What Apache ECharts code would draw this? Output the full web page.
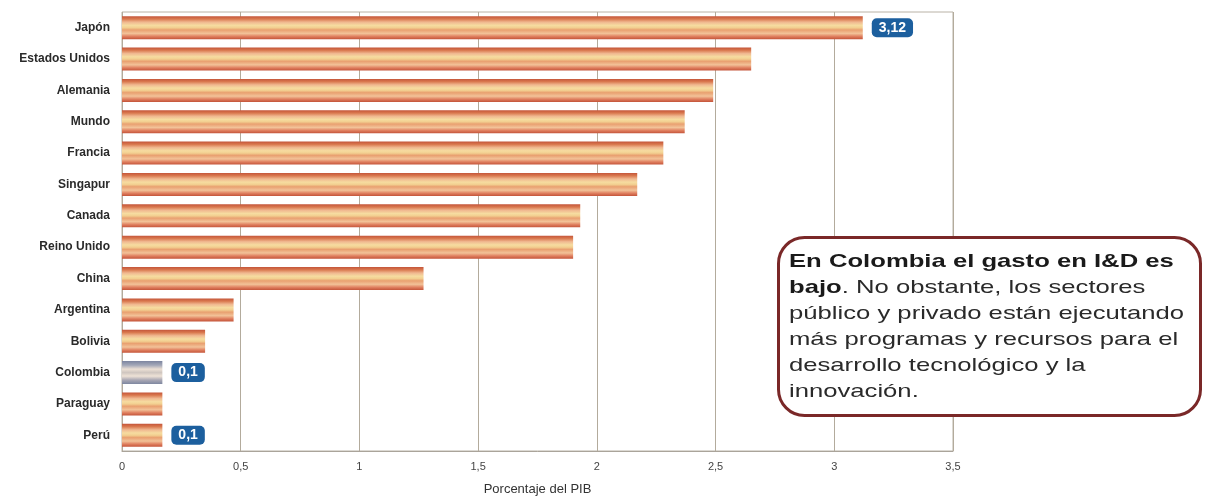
<!DOCTYPE html>
<html><head><meta charset="utf-8">
<script src="https://cdn.jsdelivr.net/npm/echarts@6/dist/echarts.min.js"></script>
<style>html,body{margin:0;padding:0;background:#fff}#c{width:1209px;height:498px}</style>
</head><body><div id="c"></div>
<script>
const categories = ['Japón','Estados Unidos','Alemania','Mundo','Francia','Singapur','Canada','Reino Unido','China','Argentina','Bolivia','Colombia','Paraguay','Perú'];
const values = [3.12, 2.65, 2.49, 2.37, 2.28, 2.17, 1.93, 1.90, 1.27, 0.47, 0.35, 0.17, 0.17, 0.17];
const valueLabels = ['3,12','','','','','','','','','','','0,1','','0,1'];
const highlight = 'Colombia';
const axisTitle = 'Porcentaje del PIB';

const orangeGrad = new echarts.graphic.LinearGradient(0,0,0,1,[
  {offset:0,color:'#c4553a'},{offset:0.12,color:'#d9784e'},{offset:0.26,color:'#f0b890'},
  {offset:0.4,color:'#f6dca0'},{offset:0.5,color:'#f2cf90'},{offset:0.6,color:'#e9a070'},
  {offset:0.75,color:'#f2c298'},{offset:0.88,color:'#e08060'},{offset:1,color:'#c4553a'}]);
const greyGrad = new echarts.graphic.LinearGradient(0,0,0,1,[
  {offset:0,color:'#7d86a0'},{offset:0.18,color:'#a4a8b8'},{offset:0.35,color:'#ece0d4'},
  {offset:0.5,color:'#cfc6c0'},{offset:0.65,color:'#eee2d6'},{offset:0.82,color:'#aaa8b4'},{offset:1,color:'#7d86a0'}]);

const data = values.map((v,i)=>({
  value:v,
  itemStyle:{color: categories[i]===highlight ? greyGrad : orangeGrad},
  label:{show: valueLabels[i]!=='', formatter: valueLabels[i]}
}));

const chart = echarts.init(document.getElementById('c'));
chart.setOption({
  animation:false,
  grid:{left:122,right:256,top:12,bottom:47,outerBoundsMode:'none',containLabel:false,show:true,borderColor:'#b9b2a6',borderWidth:1},
  xAxis:{type:'value',min:0,max:3.5,interval:0.5,
    axisLine:{show:true,lineStyle:{color:'#aaa49a',width:1}},
    axisTick:{show:false},
    splitLine:{show:true,lineStyle:{color:'#b3ab9c',width:1}},
    axisLabel:{margin:10,fontSize:11,color:'#444',fontFamily:'Liberation Sans, Arial, sans-serif',
      formatter:v=>String(v).replace('.',',')},
    name:axisTitle,nameLocation:'middle',nameGap:32,
    nameTextStyle:{fontSize:13,color:'#333',fontFamily:'Liberation Sans, Arial, sans-serif'}},
  yAxis:{type:'category',data:categories,inverse:true,
    axisLine:{show:false},axisTick:{show:false},
    axisLabel:{margin:12,fontSize:12,fontWeight:'bold',color:'#2a2a2a',fontFamily:'Liberation Sans, Arial, sans-serif'}},
  series:[{type:'bar',data:data,barWidth:23,
    label:{position:'right',distance:9,color:'#fff',fontWeight:'bold',fontSize:14,
      fontFamily:'Liberation Sans, Arial, sans-serif',
      backgroundColor:'#1c5f9e',borderRadius:5,padding:[3,7,2,7]}}],
  graphic:[
    {type:'rect',left:777,top:236,shape:{width:422,height:178,r:26},
     style:{fill:'#fff',stroke:'#7a2828',lineWidth:3},z:100},
    {type:'text',x:789,y:249,scaleX:1.35,z:101,
     style:{text:'{b|En Colombia el gasto en I&D es}\n{b|bajo}{n|. No obstante, los sectores}\n{n|público y privado están ejecutando}\n{n|más programas y recursos para el}\n{n|desarrollo tecnológico y la}\n{n|innovación.}',
       rich:{b:{fontSize:19,fontWeight:'bold',fill:'#1a1a1a',lineHeight:26,fontFamily:'Liberation Sans, Arial, sans-serif'},
             n:{fontSize:19,fill:'#2a2a2a',lineHeight:26,fontFamily:'Liberation Sans, Arial, sans-serif'}}}}
  ]
});
</script></body></html>
